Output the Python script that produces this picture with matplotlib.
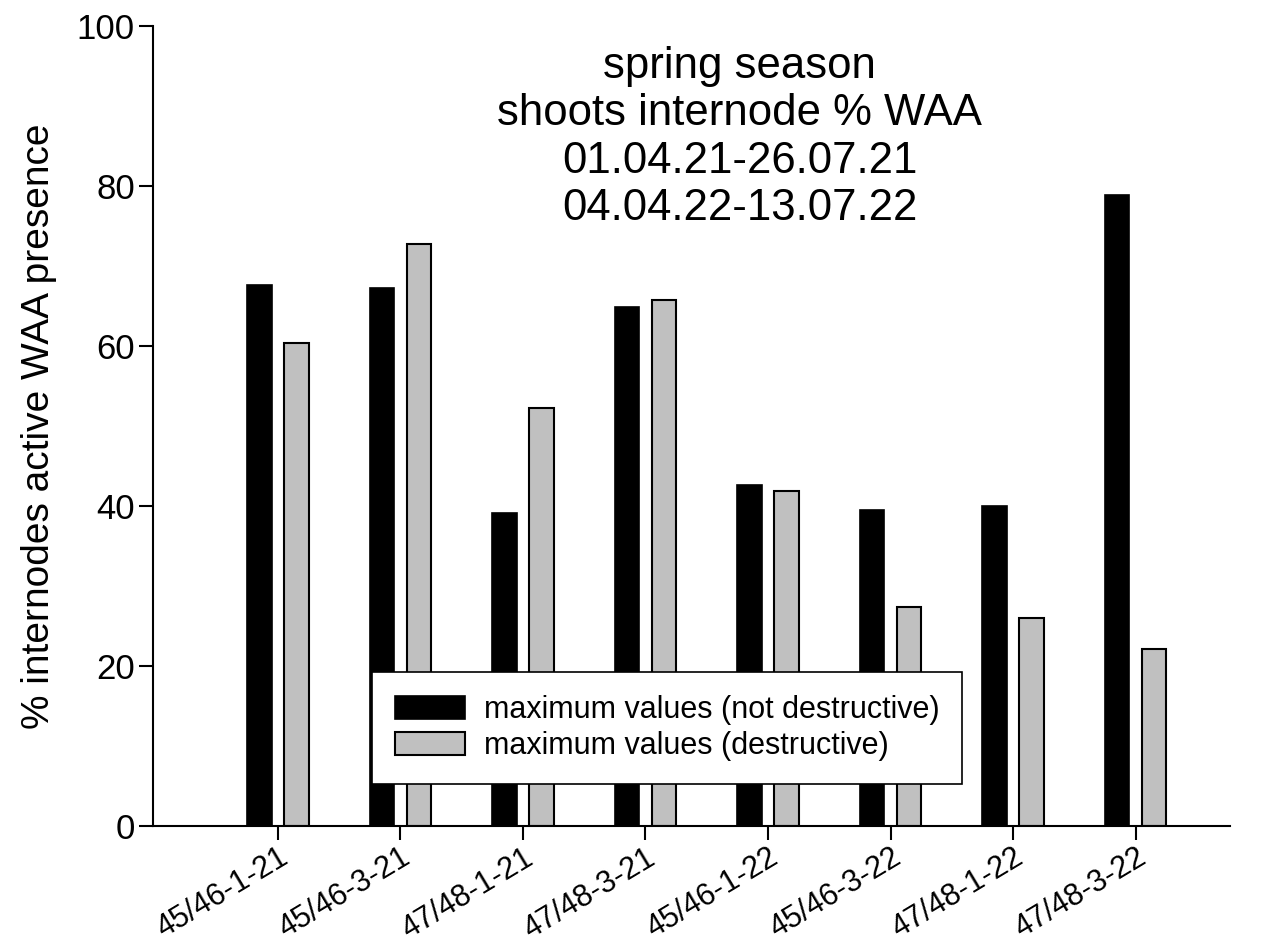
import matplotlib
matplotlib.use("Agg")
import matplotlib.pyplot as plt
import numpy as np

plt.rcParams['font.family'] = ['Liberation Sans', 'DejaVu Sans']

# data
sites = ['45/46-1-21', '45/46-3-21', '47/48-1-21', '47/48-3-21',
         '45/46-1-22', '45/46-3-22', '47/48-1-22', '47/48-3-22']
not_destructive = [67.6, 67.2, 39.1, 64.9, 42.6, 39.5, 40.0, 78.9]
destructive = [60.4, 72.8, 52.2, 65.7, 41.9, 27.4, 26.0, 22.1]

x = np.arange(len(sites))
w = 0.2
off = 0.152

fig = plt.figure(figsize=(12.63, 9.44), dpi=100)
ax = fig.add_axes([0.1211, 0.125, 0.8527, 0.8475])

ax.bar(x - off, not_destructive, w, color='black', edgecolor='black', linewidth=1.2,
       label='maximum values (not destructive)')
ax.bar(x + off, destructive, w, color='#c0c0c0', edgecolor='black', linewidth=1.5,
       label='maximum values (destructive)')

ax.set_xlim(-1.02, 7.77)
ax.set_ylim(0, 100)
ax.set_yticks([0, 20, 40, 60, 80, 100])
ax.set_xticks(x)
ax.set_xticklabels(sites, rotation=31, ha='right', rotation_mode='anchor')
ax.tick_params(axis='both', length=10, width=1.5, direction='out')
ax.tick_params(axis='y', labelsize=25, pad=3)
ax.tick_params(axis='x', labelsize=22, pad=2)

for s in ['top', 'right']:
    ax.spines[s].set_visible(False)
for s in ['left', 'bottom']:
    ax.spines[s].set_linewidth(1.5)

ax.set_ylabel('% internodes active WAA presence', fontsize=28, labelpad=14)

ax.text(0.545, 0.975, 'spring season\nshoots internode % WAA\n01.04.21-26.07.21\n04.04.22-13.07.22',
        transform=ax.transAxes, ha='center', va='top', fontsize=31.5, linespacing=1.2)

leg = ax.legend(loc='center', bbox_to_anchor=(0.199, 0.0525, 0.557, 0.14),
                fontsize=22, frameon=True, fancybox=False, edgecolor='black',
                framealpha=1, handlelength=2.3, handleheight=0.8, labelspacing=0.2,
                handletextpad=0.6, borderpad=0.75, borderaxespad=0)
leg.get_frame().set_linewidth(1.2)

fig.savefig('out.png', dpi=100)
